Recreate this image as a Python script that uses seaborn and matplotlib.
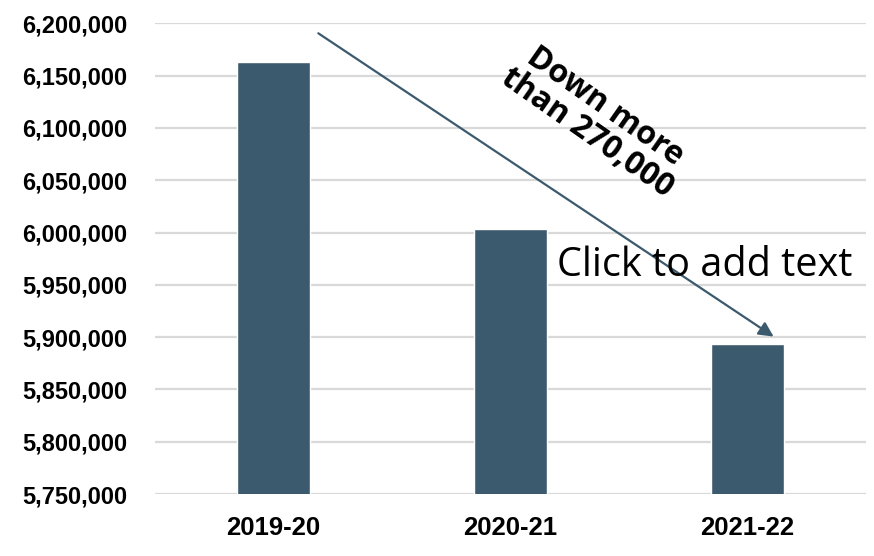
import matplotlib
matplotlib.use("Agg")
import matplotlib.pyplot as plt
import seaborn as sns
import pandas as pd
from matplotlib.ticker import FuncFormatter, MultipleLocator

# Dane
years = ["2019-20", "2020-21", "2021-22"]
enrollment = [6163500, 6003000, 5893000]

bar_color = "#3c5a6d"
grid_color = "#d9d9d9"

sns.set_theme(style="white")
plt.rcParams["font.family"] = ["Liberation Sans Narrow", "Liberation Sans", "DejaVu Sans"]
plt.rcParams["text.color"] = "black"

df = pd.DataFrame({"year": years, "value": enrollment})

fig = plt.figure(figsize=(8.74, 5.56), dpi=100)
ax = fig.add_axes([0.177, 0.1115, 0.814, 0.8465])

ax.yaxis.set_major_locator(MultipleLocator(50000))
ax.grid(axis="y", color=grid_color, linewidth=1.6, zorder=0)
ax.set_axisbelow(True)

sns.barplot(data=df, x="year", y="value", color=bar_color, width=0.31,
            saturation=1, ax=ax, zorder=2)

ax.set_ylim(5750000, 6200000)
ax.set_xlim(-0.5, 2.5)
ax.yaxis.set_major_formatter(FuncFormatter(lambda v, p: f"{int(v):,}"))
ax.set_xlabel("")
ax.set_ylabel("")
for s in ax.spines.values():
    s.set_visible(False)
ax.tick_params(axis="y", length=0, pad=20, labelsize=17, labelcolor="black")
ax.tick_params(axis="x", length=0, pad=16, labelsize=18.5, labelcolor="black")
for lbl in ax.get_xticklabels() + ax.get_yticklabels():
    lbl.set_fontweight("bold")

# Strzałka spadku
ax.annotate("", xy=(2.11, 5900500), xytext=(0.19, 6190500),
            arrowprops=dict(arrowstyle="-|>", color=bar_color, lw=1.6,
                            mutation_scale=22, shrinkA=0, shrinkB=0),
            zorder=3)

ax.text(1.36, 6108000, "Down more\nthan 270,000", rotation=-35,
        ha="center", va="center", fontsize=23, fontweight="bold",
        color="black", family=["Open Sans", "DejaVu Sans"], linespacing=0.95,
        rotation_mode="anchor", zorder=4)

ax.text(1.195, 5968000, "Click to add text", ha="left", va="center",
        fontsize=28.5, color="black", family=["Open Sans", "DejaVu Sans"],
        zorder=4)

plt.savefig("out.png", dpi=100)
